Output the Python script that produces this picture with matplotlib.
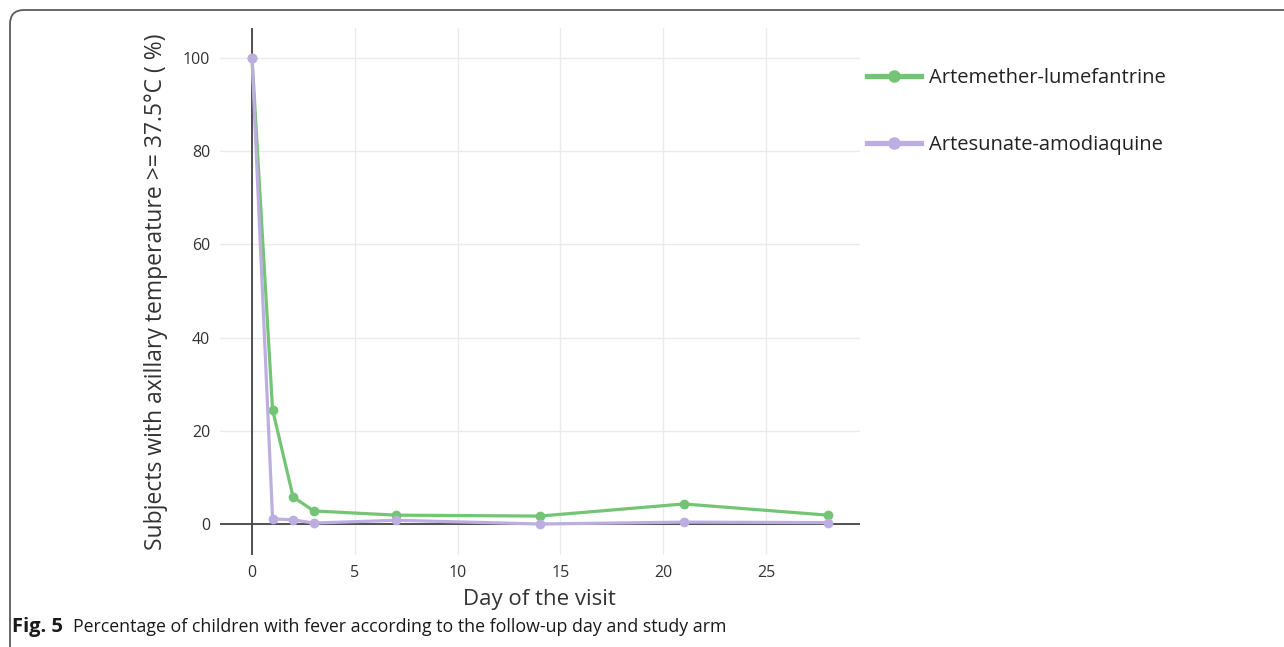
import matplotlib.pyplot as plt
from matplotlib.patches import FancyBboxPatch

# data
days = [0, 1, 2, 3, 7, 14, 21, 28]
artemether = [100, 24.5, 5.8, 2.8, 1.9, 1.7, 4.3, 1.9]
artesunate = [100, 1.1, 0.9, 0.2, 0.8, 0.0, 0.4, 0.3]
series_labels = ['Artemether-lumefantrine', 'Artesunate-amodiaquine']
colors = ['#74c476', '#bcaee0']
x_ticks = [0, 5, 10, 15, 20, 25]
y_ticks = [0, 20, 40, 60, 80, 100]

plt.rcParams['font.family'] = ['Open Sans', 'DejaVu Sans']

fig = plt.figure(figsize=(12.84, 6.47), dpi=100)
ax = fig.add_axes([0.1713, 0.1422, 0.4984, 0.8145])

for vals, lab, col in zip([artemether, artesunate], series_labels, colors):
    ax.plot(days, vals, color=col, lw=2.3, marker='o', ms=6, label=lab, zorder=3)

ax.set_xlim(-1.56, 29.57)
ax.set_ylim(-6.65, 106.4)
ax.set_xticks(x_ticks)
ax.set_yticks(y_ticks)
ax.grid(True, color='#ebebeb', lw=1)
ax.set_axisbelow(True)
ax.axhline(0, color='#444444', lw=1.3, zorder=2)
ax.axvline(0, color='#444444', lw=1.3, zorder=2)
for s in ax.spines.values():
    s.set_visible(False)
ax.tick_params(length=0, labelsize=11.5, pad=7)
for t in ax.get_xticklabels() + ax.get_yticklabels():
    t.set_color('#333333')

ax.set_xlabel('Day of the visit', fontsize=16, color='#333333', labelpad=6)
ax.set_ylabel('Subjects with axillary temperature >= 37.5°C ( %)', fontsize=16.5,
              color='#333333', labelpad=11)

leg = ax.legend(loc='upper left', bbox_to_anchor=(0.6675, 0.911), bbox_transform=fig.transFigure,
                frameon=False, fontsize=14.5, handlelength=2.65, handletextpad=0.4,
                labelspacing=2.35, borderpad=0)
for h in leg.get_lines():
    h.set_linewidth(3.8)
    h.set_markersize(8)
for t in leg.get_texts():
    t.set_color('#222222')

# rounded frame of the journal figure
frame = FancyBboxPatch((10 / 1284, -0.2), 1.2, 1.2 - 10 / 647,
                       boxstyle='round,pad=0,rounding_size=0.011',
                       transform=fig.transFigure, fill=False, ec='#5a5a5a', lw=1.3,
                       clip_on=False, mutation_aspect=1284 / 647)
fig.patches.append(frame)

fig.canvas.draw()
r = fig.canvas.get_renderer()
t1 = fig.text(12 / 1284, 1 - 627 / 647, 'Fig. 5', fontsize=14.5, fontweight='bold',
              va='center', color='#1a1a1a')
bb = t1.get_window_extent(renderer=r)
fig.text((bb.x1 + 10) / 1284, 1 - 627 / 647,
         'Percentage of children with fever according to the follow-up day and study arm',
         fontsize=12.8, va='center', color='#1a1a1a')

fig.savefig('out.png', dpi=100)
